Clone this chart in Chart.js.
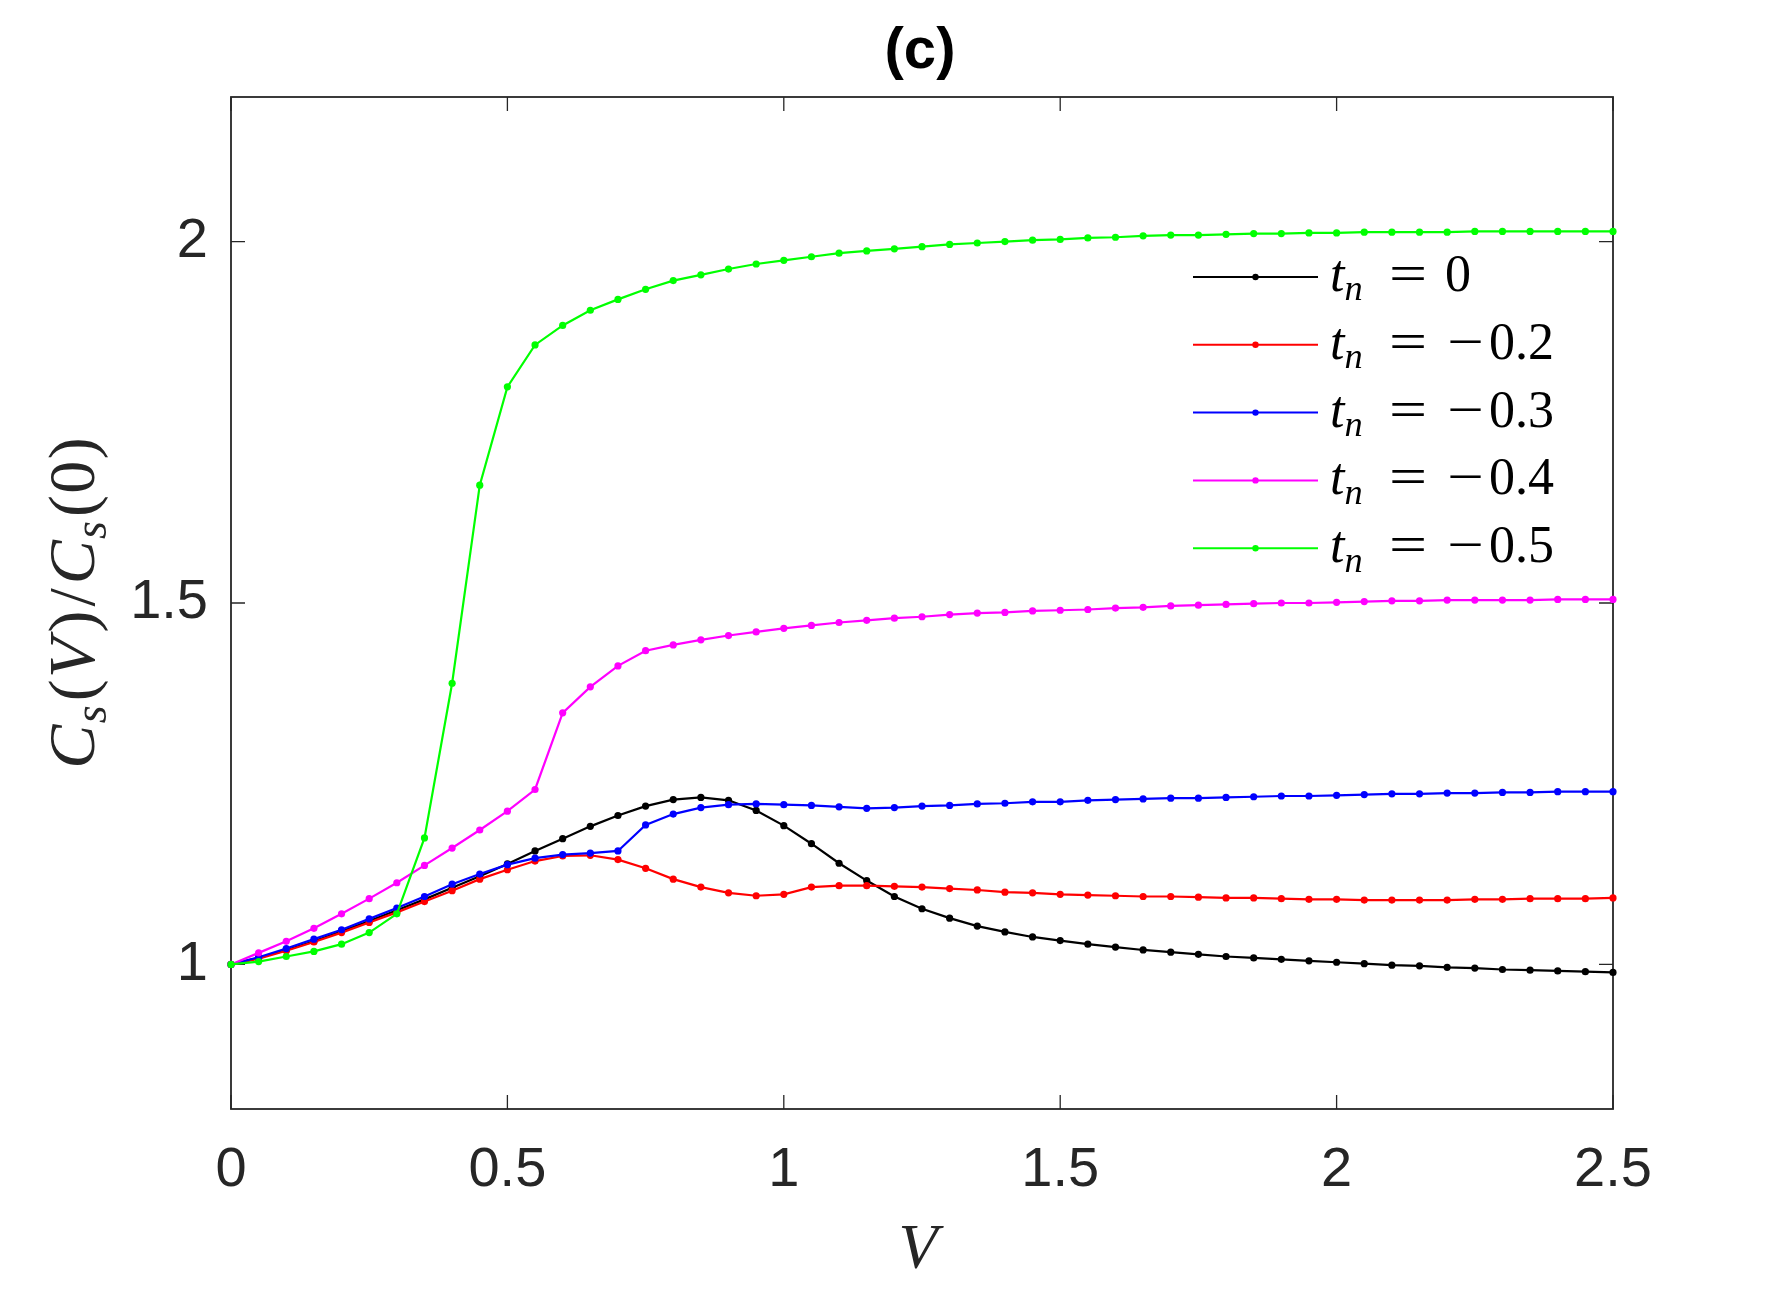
<!DOCTYPE html>
<html>
<head>
<meta charset="utf-8">
<title>(c) Cs(V)/Cs(0)</title>
<script src="https://cdn.jsdelivr.net/npm/chart.js@4.4.1/dist/chart.umd.min.js"></script>
<style>
  html, body { margin: 0; padding: 0; background: #fff; }
  canvas { display: block; }
</style>
</head>
<body>
<canvas id="chart" width="1782" height="1291"></canvas>
<script>
// Bias values V (x axis)
const vValues = [
  0, 0.05, 0.1, 0.15, 0.2, 0.25, 0.3, 0.35, 0.4, 0.45,
  0.5, 0.55, 0.6, 0.65, 0.7, 0.75, 0.8, 0.85, 0.9, 0.95,
  1.0, 1.05, 1.1, 1.15, 1.2, 1.25, 1.3, 1.35, 1.4, 1.45,
  1.5, 1.55, 1.6, 1.65, 1.7, 1.75, 1.8, 1.85, 1.9, 1.95,
  2.0, 2.05, 2.1, 2.15, 2.2, 2.25, 2.3, 2.35, 2.4, 2.45, 2.5,
];

// Series labels (t_n values, without sign) and colours
const tnLabels = ["0", "0.2", "0.3", "0.4", "0.5"];
const tnNegative = [false, true, true, true, true];
const seriesColors = ["#000000", "#ff0000", "#0000ff", "#ff00ff", "#00ff00"];

// Cs(V)/Cs(0)
const tn0 = [
  1.000, 1.009, 1.020, 1.032, 1.046, 1.060, 1.075, 1.090, 1.106, 1.122,
  1.139, 1.157, 1.174, 1.191, 1.206, 1.219, 1.228, 1.231, 1.227, 1.213,
  1.192, 1.167, 1.140, 1.116, 1.094, 1.077, 1.064, 1.053, 1.045, 1.038,
  1.033, 1.028, 1.024, 1.020, 1.017, 1.014, 1.011, 1.009, 1.007, 1.005,
  1.003, 1.001, 0.999, 0.998, 0.996, 0.995, 0.993, 0.992, 0.991, 0.990, 0.989,
];
const tnM02 = [
  1.000, 1.008, 1.019, 1.031, 1.044, 1.058, 1.072, 1.087, 1.102, 1.118,
  1.131, 1.143, 1.150, 1.151, 1.145, 1.133, 1.118, 1.107, 1.099, 1.095,
  1.097, 1.107, 1.109, 1.109, 1.108, 1.107, 1.105, 1.103, 1.100, 1.099,
  1.097, 1.096, 1.095, 1.094, 1.094, 1.093, 1.092, 1.092, 1.091, 1.090,
  1.090, 1.089, 1.089, 1.089, 1.089, 1.090, 1.090, 1.091, 1.091, 1.091, 1.092,
];
const tnM03 = [
  1.000, 1.010, 1.022, 1.035, 1.048, 1.063, 1.078, 1.094, 1.111, 1.125,
  1.138, 1.147, 1.152, 1.154, 1.157, 1.193, 1.208, 1.217, 1.221, 1.222,
  1.221, 1.220, 1.218, 1.216, 1.217, 1.219, 1.220, 1.222, 1.223, 1.225,
  1.225, 1.227, 1.228, 1.229, 1.230, 1.230, 1.231, 1.232, 1.233, 1.233,
  1.234, 1.235, 1.236, 1.236, 1.237, 1.237, 1.238, 1.238, 1.239, 1.239, 1.239,
];
const tnM04 = [
  1.000, 1.016, 1.032, 1.050, 1.070, 1.091, 1.113, 1.137, 1.161, 1.186,
  1.212, 1.242, 1.348, 1.384, 1.413, 1.434, 1.442, 1.449, 1.455, 1.460,
  1.465, 1.469, 1.473, 1.476, 1.479, 1.481, 1.484, 1.486, 1.487, 1.489,
  1.490, 1.491, 1.493, 1.494, 1.496, 1.497, 1.498, 1.499, 1.500, 1.500,
  1.501, 1.502, 1.503, 1.503, 1.504, 1.504, 1.504, 1.504, 1.505, 1.505, 1.505,
];
const tnM05 = [
  1.000, 1.004, 1.011, 1.018, 1.028, 1.044, 1.070, 1.175, 1.389, 1.663,
  1.799, 1.857, 1.884, 1.905, 1.920, 1.934, 1.946, 1.954, 1.962, 1.969,
  1.974, 1.979, 1.984, 1.987, 1.990, 1.993, 1.996, 1.998, 2.000, 2.002,
  2.003, 2.005, 2.006, 2.008, 2.009, 2.009, 2.010, 2.011, 2.011, 2.012,
  2.012, 2.013, 2.013, 2.013, 2.013, 2.014, 2.014, 2.014, 2.014, 2.014, 2.014,
];

// Tick labels
const xTicks = [0, 0.5, 1, 1.5, 2, 2.5];
const yTicks = [1, 1.5, 2];

const allSeries = [tn0, tnM02, tnM03, tnM04, tnM05];

const AXIS_COLOR = "#262626";
const SANS = '"Liberation Sans", Arial, Helvetica, sans-serif';
const SERIF = '"Liberation Serif", "DejaVu Serif", serif';

// Draw a run of "math" text pieces: {s, it, sub, gap}
function measureRuns(ctx, runs, size) {
  let w = 0;
  runs.forEach((r) => {
    const sz = r.sub ? size * 0.7 : size;
    ctx.font = `${r.it ? "italic " : ""}${sz}px ${SERIF}`;
    w += ctx.measureText(r.s).width + (r.gap || 0) * size;
  });
  return w;
}

function drawRuns(ctx, runs, x, y, size) {
  let cx = x;
  ctx.textBaseline = "alphabetic";
  ctx.textAlign = "left";
  runs.forEach((r) => {
    const sz = r.sub ? size * 0.7 : size;
    ctx.font = `${r.it ? "italic " : ""}${sz}px ${SERIF}`;
    ctx.fillText(r.s, cx, y + (r.sub ? size * 0.18 : 0));
    cx += ctx.measureText(r.s).width + (r.gap || 0) * size;
  });
}

// Axes box, inward ticks, titles and legend
const decorPlugin = {
  id: "decor",
  beforeDatasetsDraw(chart) {
    const { ctx, chartArea } = chart;
    const xs = chart.scales.x;
    const ys = chart.scales.y;
    const tl = 14;
    ctx.save();
    ctx.strokeStyle = AXIS_COLOR;
    ctx.lineWidth = 1.8;
    ctx.strokeRect(chartArea.left, chartArea.top, chartArea.right - chartArea.left, chartArea.bottom - chartArea.top);
    ctx.lineWidth = 1.3;
    ctx.beginPath();
    xTicks.forEach((v) => {
      const px = xs.getPixelForValue(v);
      ctx.moveTo(px, chartArea.bottom);
      ctx.lineTo(px, chartArea.bottom - tl);
      ctx.moveTo(px, chartArea.top);
      ctx.lineTo(px, chartArea.top + tl);
    });
    yTicks.forEach((v) => {
      const py = ys.getPixelForValue(v);
      ctx.moveTo(chartArea.left, py);
      ctx.lineTo(chartArea.left + tl, py);
      ctx.moveTo(chartArea.right, py);
      ctx.lineTo(chartArea.right - tl, py);
    });
    ctx.stroke();
    ctx.restore();
  },
  afterDraw(chart) {
    const { ctx, chartArea } = chart;
    const midX = (chartArea.left + chartArea.right) / 2;
    const midY = (chartArea.top + chartArea.bottom) / 2;
    ctx.save();
    ctx.fillStyle = "#000";

    // Title
    ctx.font = `bold 58px ${SANS}`;
    ctx.textAlign = "center";
    ctx.textBaseline = "alphabetic";
    ctx.fillText("(c)", midX - 2, 68);

    // X axis title
    ctx.fillStyle = AXIS_COLOR;
    const xRuns = [{ s: "V", it: true }];
    const xw = measureRuns(ctx, xRuns, 64);
    drawRuns(ctx, xRuns, midX - xw / 2 - 4, 1268, 64);

    // Y axis title (rotated)
    const yRuns = [
      { s: "C", it: true, gap: 0.02 }, { s: "s", it: true, sub: true, gap: 0.06 },
      { s: "(", gap: 0.02 }, { s: "V", it: true, gap: 0.08 }, { s: ")", gap: 0.06 },
      { s: "/", gap: 0.06 },
      { s: "C", it: true, gap: 0.02 }, { s: "s", it: true, sub: true, gap: 0.06 },
      { s: "(", gap: 0.02 }, { s: "0", gap: 0.02 }, { s: ")" },
    ];
    const ySize = 66;
    const yw = measureRuns(ctx, yRuns, ySize);
    ctx.translate(94, midY);
    ctx.rotate(-Math.PI / 2);
    drawRuns(ctx, yRuns, -yw / 2, 0, ySize);
    ctx.setTransform(1, 0, 0, 1, 0, 0);

    // Legend
    const lx0 = 1193, lx1 = 1318, tx = 1330;
    const rowY0 = 277, rowStep = 67.8;
    const lSize = 52;
    tnLabels.forEach((lab, i) => {
      const y = rowY0 + i * rowStep;
      ctx.strokeStyle = seriesColors[i];
      ctx.lineWidth = 2;
      ctx.beginPath();
      ctx.moveTo(lx0, y);
      ctx.lineTo(lx1, y);
      ctx.stroke();
      ctx.fillStyle = seriesColors[i];
      ctx.beginPath();
      ctx.arc((lx0 + lx1) / 2, y, 3.2, 0, Math.PI * 2);
      ctx.fill();
      ctx.fillStyle = "#000";
      const base = y + 14;
      drawRuns(ctx, [{ s: "t", it: true }, { s: "n", it: true, sub: true }], tx, base, lSize);
      // wide "=" like the LaTeX one
      ctx.save();
      ctx.translate(1389, base);
      ctx.scale(1.3, 1);
      drawRuns(ctx, [{ s: "=" }], 0, 0, lSize);
      ctx.restore();
      if (tnNegative[i]) {
        ctx.save();
        ctx.translate(1447, base);
        ctx.scale(1.25, 1);
        drawRuns(ctx, [{ s: "\u2212" }], 0, 0, lSize);
        ctx.restore();
        drawRuns(ctx, [{ s: lab }], 1489, base, lSize);
      } else {
        drawRuns(ctx, [{ s: lab }], 1445, base, lSize);
      }
    });
    ctx.restore();
  },
};

document.addEventListener("DOMContentLoaded", () => {
  const datasets = allSeries.map((series, i) => ({
    label: "t_n = " + (tnNegative[i] ? "\u2212" : "") + tnLabels[i],
    data: vValues.map((v, k) => ({ x: v, y: series[k] })),
    borderColor: seriesColors[i],
    backgroundColor: seriesColors[i],
    borderWidth: 2.2,
    pointRadius: 3.6,
    pointHoverRadius: 3.6,
    pointBorderWidth: 0,
    pointBackgroundColor: seriesColors[i],
    tension: 0,
    fill: false,
    clip: false,
    order: allSeries.length - i, // later series on top
  }));

  new Chart(document.getElementById("chart").getContext("2d"), {
    type: "line",
    data: { datasets },
    options: {
      responsive: false,
      devicePixelRatio: 1,
      animation: false,
      layout: { padding: { left: 0, right: 169, top: 97, bottom: 0 } },
      plugins: {
        legend: { display: false },
        tooltip: { enabled: false },
        title: { display: false },
      },
      scales: {
        x: {
          type: "linear",
          min: 0,
          max: 2.5,
          grid: { display: false, drawTicks: false },
          border: { display: false },
          afterBuildTicks: (axis) => {
            axis.ticks = xTicks.map((v) => ({ value: v }));
          },
          afterFit: (axis) => {
            axis.height = 182;
          },
          ticks: {
            padding: 28,
            color: AXIS_COLOR,
            font: { family: SANS, size: 56 },
            maxRotation: 0,
            callback: (v) => String(v),
          },
        },
        y: {
          type: "linear",
          min: 0.8,
          max: 2.2,
          grid: { display: false, drawTicks: false },
          border: { display: false },
          afterBuildTicks: (axis) => {
            axis.ticks = yTicks.map((v) => ({ value: v }));
          },
          afterFit: (axis) => {
            axis.width = 231;
          },
          ticks: {
            padding: 23,
            color: AXIS_COLOR,
            font: { family: SANS, size: 56 },
            callback: (v) => String(v),
          },
        },
      },
    },
    plugins: [decorPlugin],
  });
});
</script>
</body>
</html>
